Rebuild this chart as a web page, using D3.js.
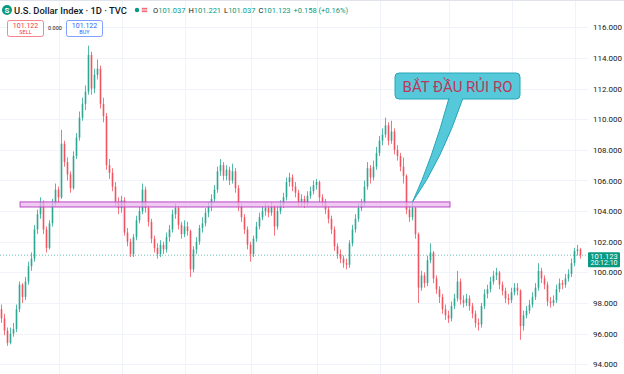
<!DOCTYPE html>
<html>
<head>
<meta charset="utf-8">
<script src="https://cdn.jsdelivr.net/npm/d3@7"></script>
<style>
  body { margin: 0; background: #fff; }
  svg { display: block; font-family: Roboto, "Noto Sans", sans-serif; }
</style>
</head>
<body>
<svg id="chart" width="624" height="374"></svg>
<script>
// daily candles (open = previous close)
var firstOpen = 97.6;
var closes = [97.0,96.2,95.4,96.0,96.3,97.6,99.2,98.4,99.4,100.4,
  100.9,102.8,103.8,104.6,102.8,101.6,103.2,104.5,105.4,104.9,
  108.4,107.2,106.4,105.5,107.6,108.8,110.1,111.0,111.8,114.2,
  112.0,112.9,113.3,111.0,110.2,107.0,106.5,105.6,104.6,104.2,
  104.7,102.6,102.0,101.2,102.3,103.4,104.0,105.4,104.2,103.3,
  102.2,101.6,101.2,101.8,101.5,102.3,102.8,103.8,104.2,103.1,
  102.5,103.0,102.7,100.2,101.5,102.0,102.9,103.2,103.9,104.3,
  104.8,105.4,106.6,107.0,106.3,106.7,106.0,106.6,105.5,104.3,
  103.6,102.8,101.8,101.2,102.2,103.0,103.6,104.0,104.2,103.9,
  104.3,103.0,104.0,104.4,104.9,105.9,106.2,105.6,105.2,104.6,
  104.8,104.5,105.0,105.3,105.7,105.9,104.9,104.6,104.1,103.5,
  102.8,101.7,101.2,100.9,100.6,100.5,101.9,102.8,103.5,104.2,
  104.5,105.6,106.8,106.2,106.9,107.8,108.6,109.0,109.6,108.6,
  109.2,108.0,107.6,106.9,106.3,104.1,103.6,104.2,102.5,99.0,
  99.8,99.3,100.8,101.3,99.6,98.9,98.4,97.6,97.2,97.0,
  97.8,98.3,99.4,98.2,98.0,98.3,97.8,97.3,96.7,96.6,
  97.8,98.6,98.9,99.4,99.8,100.0,99.2,98.8,98.3,98.2,
  98.7,99.0,98.8,96.5,97.2,97.5,97.9,98.4,99.0,100.1,
  99.6,99.2,98.1,98.0,98.2,98.9,99.3,99.2,99.6,99.9,
  100.6,101.4,101.5,101.123];
var highs = [97.9,97.3,96.4,96.4,96.7,97.9,99.4,99.3,99.7,100.7,
  101.3,103.1,104.1,104.9,104.7,103.0,103.4,104.8,105.8,105.6,
  109.3,108.6,107.5,106.6,107.9,109.1,110.5,111.4,112.2,114.8,
  114.4,113.3,113.9,113.5,111.4,110.4,107.4,106.8,105.9,104.9,
  105.0,104.9,102.9,102.2,102.5,103.7,104.3,105.8,105.6,104.4,
  103.5,102.4,101.9,102.1,102.0,102.6,103.1,104.1,104.5,104.3,
  103.3,103.4,103.3,102.8,101.7,102.3,103.1,103.6,104.2,104.6,
  105.1,105.7,106.9,107.4,107.2,107.0,106.9,107.1,106.8,105.7,
  104.5,103.8,103.0,102.0,102.4,103.3,103.9,104.3,104.5,104.4,
  104.6,104.4,104.3,104.7,105.2,106.2,106.5,106.4,105.9,105.4,
  105.1,105.0,105.3,105.6,106.0,106.1,106.0,105.1,104.8,104.3,
  103.7,103.0,101.9,101.5,101.1,100.9,102.1,103.1,103.8,104.5,
  104.8,106.0,107.2,107.0,107.3,108.2,108.9,109.4,110.1,109.8,
  109.9,109.4,108.3,107.8,107.5,106.4,104.3,104.6,104.3,102.6,
  100.1,100.0,101.1,101.9,101.4,99.8,99.1,98.6,97.9,97.5,
  98.1,98.6,100.1,99.6,98.5,98.6,98.5,98.0,97.5,97.0,
  98.0,98.9,99.2,99.7,100.1,100.3,100.1,99.4,99.0,98.6,
  99.0,99.3,99.3,98.9,97.5,97.8,98.2,98.7,99.3,100.6,
  100.3,99.8,99.4,98.4,98.5,99.2,99.6,99.5,99.9,100.2,
  100.9,101.6,101.8,101.6];
var lows = [96.7,95.9,95.2,95.3,95.8,96.1,97.4,98.0,98.2,99.2,
  100.1,100.7,102.5,103.5,102.5,101.3,101.5,103.0,104.3,104.5,
  104.8,106.9,106.0,105.2,105.4,107.4,108.6,109.9,110.6,111.6,
  111.6,111.7,112.6,110.7,109.8,106.7,106.1,105.3,104.3,103.8,
  103.9,102.4,101.7,101.0,101.0,102.1,103.2,103.8,103.9,103.0,
  101.9,101.3,100.9,101.0,101.2,101.3,102.0,102.6,103.5,102.8,
  102.2,102.3,102.4,99.7,100.0,101.2,101.8,102.6,103.0,103.6,
  104.0,104.6,105.2,106.3,106.0,106.0,105.7,105.8,105.2,104.0,
  103.3,102.5,101.5,100.7,101.0,102.0,102.8,103.4,103.7,103.6,
  103.7,102.4,102.8,103.8,104.2,104.7,105.6,105.3,104.9,104.3,
  104.3,104.2,104.3,104.8,105.1,105.4,104.6,104.3,103.8,103.2,
  102.5,101.4,100.9,100.6,100.3,100.2,100.3,101.7,102.6,103.3,
  104.0,104.3,105.4,105.8,106.0,106.7,107.6,108.3,108.8,108.3,
  108.4,107.7,107.3,106.6,105.8,103.8,103.3,103.4,102.2,98.0,
  98.8,99.0,99.1,100.6,99.3,98.6,98.0,97.3,96.9,96.7,
  96.8,97.6,98.1,97.9,97.7,97.8,97.5,97.0,96.4,96.2,
  96.4,97.6,98.3,98.7,99.2,99.5,98.9,98.5,98.0,97.9,
  98.0,98.5,98.5,95.6,96.2,97.0,97.3,97.7,98.2,98.8,
  99.3,98.9,97.8,97.7,97.8,98.0,98.7,98.9,99.0,99.4,
  99.7,100.4,101.1,100.9];

var priceTicks = [94, 96, 98, 100, 102, 104, 106, 108, 110, 112, 114, 116];
var gridIdx = [19, 40, 61, 83, 105, 126, 149, 170, 191];   // time grid columns
var lastPrice = 101.123;
var lastTime = "20:12:10";
var zone = { from: 6.2, to: 149.5, top: 104.6, bottom: 104.27 };
var zoneTouch = { idx: 137, price: 104.6 };
var noteText = "BẮT ĐẦU RỦI RO";

var upColor = "#089981", downColor = "#f23645";

var svg = d3.select("#chart");
var width = 624, height = 374;
var plotRight = 588;

var n = closes.length;
var candles = closes.map(function (c, i) {
  var o = i == 0 ? firstOpen : closes[i - 1];
  return { i: i, o: o, c: c, h: highs[i], l: lows[i] };
});

var x = d3.scaleLinear().domain([-0.5, n - 0.5]).range([0, n * 3]);
var y = d3.scaleLinear().domain([94, 116]).range([364.3, 27.3]);

// grid
svg.append("g").selectAll("line.h")
  .data(priceTicks).enter().append("line")
  .attr("x1", 0).attr("x2", plotRight)
  .attr("y1", d => Math.round(y(d)) + 0.5).attr("y2", d => Math.round(y(d)) + 0.5)
  .attr("stroke", "#f0f3fa");
svg.append("g").selectAll("line.v")
  .data(gridIdx).enter().append("line")
  .attr("x1", d => Math.round(x(d)) + 0.5).attr("x2", d => Math.round(x(d)) + 0.5)
  .attr("y1", 0).attr("y2", height)
  .attr("stroke", "#f0f3fa");

// last price dotted line
svg.append("line")
  .attr("x1", 0).attr("x2", plotRight)
  .attr("y1", y(lastPrice)).attr("y2", y(lastPrice))
  .attr("stroke", upColor).attr("stroke-opacity", 0.6)
  .attr("stroke-dasharray", "1,2");

// candles
var cg = svg.append("g").attr("opacity", 0.85);
cg.selectAll("line.wick")
  .data(candles).enter().append("line")
  .attr("x1", d => x(d.i)).attr("x2", d => x(d.i))
  .attr("y1", d => y(d.h)).attr("y2", d => y(d.l))
  .attr("stroke", d => d.c >= d.o ? upColor : downColor)
  .attr("stroke-width", 0.8);
cg.selectAll("rect.body")
  .data(candles).enter().append("rect")
  .attr("x", d => x(d.i) - 0.8)
  .attr("width", 1.6)
  .attr("y", d => y(Math.max(d.o, d.c)))
  .attr("height", d => Math.max(1, Math.abs(y(d.o) - y(d.c))))
  .attr("fill", d => d.c >= d.o ? upColor : downColor);

// highlighted zone
svg.append("rect")
  .attr("x", x(zone.from)).attr("width", x(zone.to) - x(zone.from))
  .attr("y", y(zone.top)).attr("height", y(zone.bottom) - y(zone.top))
  .attr("fill", "#ecb8f0").attr("fill-opacity", 0.75)
  .attr("stroke", "#b84cc4").attr("stroke-width", 1);

// callout
var tipX = x(zoneTouch.idx), tipY = y(zoneTouch.price);
var box = { x: 395, y: 73, w: 125, h: 26 };
svg.append("path")
  .attr("d", "M" + 449 + "," + (box.y + box.h - 1) +
    "Q" + 432 + "," + 160 + " " + tipX + "," + tipY +
    "Q" + 442 + "," + 160 + " " + 463 + "," + (box.y + box.h - 1) + "Z")
  .attr("fill", "#55c9da").attr("stroke", "#27a6b8").attr("stroke-width", 1);
svg.append("rect")
  .attr("x", box.x).attr("y", box.y).attr("width", box.w).attr("height", box.h)
  .attr("rx", 4)
  .attr("fill", "#55c9da").attr("stroke", "#27a6b8").attr("stroke-width", 1);
svg.append("rect")
  .attr("x", 450).attr("y", box.y + box.h - 2).attr("width", 12).attr("height", 3)
  .attr("fill", "#55c9da");
svg.append("text")
  .attr("x", box.x + box.w / 2).attr("y", box.y + 19)
  .attr("text-anchor", "middle")
  .style("font-size", "15px")
  .style("fill", "#c0365a")
  .text(noteText);

// price scale
var axis = d3.axisRight(y).tickValues(priceTicks).tickSize(0).tickPadding(0)
  .tickFormat(d3.format(".3f"));
var ag = svg.append("g").attr("transform", "translate(593,0)").call(axis);
ag.select(".domain").remove();
ag.selectAll("text").style("font-size", "8px").style("fill", "#131722")
  .style("font-family", "Roboto, sans-serif");

// last price label
var ly = y(lastPrice);
svg.append("rect").attr("x", 588).attr("y", ly - 3).attr("width", 32).attr("height", 15)
  .attr("rx", 1).attr("fill", upColor);
svg.append("text").attr("x", 604).attr("y", ly + 3.5).attr("text-anchor", "middle")
  .style("font-size", "7.5px").style("fill", "#fff").text(lastPrice.toFixed(3));
svg.append("text").attr("x", 604).attr("y", ly + 10).attr("text-anchor", "middle")
  .style("font-size", "7px").style("fill", "#fff").text(lastTime);

// header
svg.append("line").attr("x1", 0).attr("x2", width).attr("y1", 0.5).attr("y2", 0.5)
  .attr("stroke", "#e0e3eb");
svg.append("circle").attr("cx", 7).attr("cy", 10).attr("r", 5).attr("fill", "#089981");
svg.append("text").attr("x", 7).attr("y", 13).attr("text-anchor", "middle")
  .style("font-size", "8px").style("font-weight", "bold").style("fill", "#fff").text("S");
svg.append("text").attr("x", 14).attr("y", 14)
  .style("font-size", "9.4px").style("font-weight", 500).style("fill", "#131722")
  .text("U.S. Dollar Index · 1D · TVC");
svg.append("circle").attr("cx", 137).attr("cy", 10).attr("r", 2.2).attr("fill", "#089981");
svg.append("rect").attr("x", 141).attr("y", 7).attr("width", 7).attr("height", 6)
  .attr("rx", 1).attr("fill", "#fce4ec");
svg.append("line").attr("x1", 142).attr("x2", 147).attr("y1", 8.8).attr("y2", 8.8)
  .attr("stroke", "#f23645");
svg.append("line").attr("x1", 142).attr("x2", 147).attr("y1", 11.2).attr("y2", 11.2)
  .attr("stroke", "#f23645");

var ohlc = [["O", "101.037"], ["H", "101.221"], ["L", "101.037"], ["C", "101.123"]];
var t = svg.append("text").attr("x", 153).attr("y", 13).style("font-size", "7.5px");
ohlc.forEach(function (p, k) {
  t.append("tspan").attr("dx", k == 0 ? 0 : 3).style("fill", "#131722").text(p[0]);
  t.append("tspan").style("fill", upColor).text(p[1]);
});
t.append("tspan").attr("dx", 3).style("fill", upColor).text("+0.158 (+0.16%)");

// sell / buy buttons
function button(bx, val, label, col) {
  svg.append("rect").attr("x", bx + 0.5).attr("y", 20.5).attr("width", 36).attr("height", 16)
    .attr("rx", 2).attr("fill", "#fff").attr("stroke", col).attr("stroke-opacity", 0.6);
  svg.append("text").attr("x", bx + 18.5).attr("y", 27.5).attr("text-anchor", "middle")
    .style("font-size", "7px").style("fill", col).text(val);
  svg.append("text").attr("x", bx + 18.5).attr("y", 34).attr("text-anchor", "middle")
    .style("font-size", "5.5px").style("fill", col).text(label);
}
button(7, "101.122", "SELL", "#f23645");
button(66, "101.122", "BUY", "#2962ff");
svg.append("text").attr("x", 55).attr("y", 30).attr("text-anchor", "middle")
  .style("font-size", "5.5px").style("fill", "#131722").text("0.000");
</script>
</body>
</html>
